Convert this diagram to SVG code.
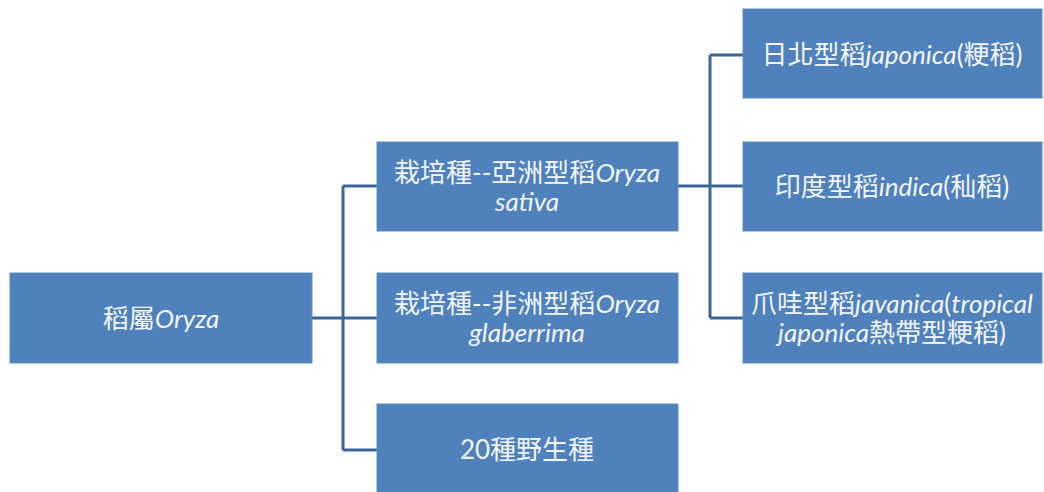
<svg xmlns="http://www.w3.org/2000/svg" width="1044" height="492" viewBox="0 0 1044 492">
<style>
.box{fill:#4f81bd;stroke:#5f8dc6;stroke-width:1}
.t{font-family:Lato,"Noto Sans CJK TC",sans-serif;font-size:26px;fill:#f4f6fa;text-anchor:middle}
.i{font-style:italic}
.c{fill:none;stroke:#3e6597;stroke-width:3}
</style>
<rect width="1044" height="492" fill="#ffffff"/>
<g id="connectors">
<path class="c" d="M312,318 H377"/>
<path class="c" d="M343,186 V450"/>
<path class="c" d="M343,186 H377"/>
<path class="c" d="M343,450 H377"/>
<path class="c" d="M678,186 H743"/>
<path class="c" d="M710,55 V318"/>
<path class="c" d="M710,55 H743"/>
<path class="c" d="M710,318 H743"/>
</g>
<g id="root">
<rect class="box" x="10" y="273" width="302" height="90"/>
<text class="t" x="161" y="328">稻屬<tspan class="i">Oryza</tspan></text>
</g>
<g id="sativa">
<rect class="box" x="377" y="142" width="301" height="89"/>
<text class="t" x="527" y="182">栽培種--亞洲型稻<tspan class="i">Oryza</tspan></text>
<text class="t i" x="527" y="211">sativa</text>
</g>
<g id="glaberrima">
<rect class="box" x="377" y="273" width="301" height="90"/>
<text class="t" x="527" y="313">栽培種--非洲型稻<tspan class="i">Oryza</tspan></text>
<text class="t i" x="527" y="342">glaberrima</text>
</g>
<g id="wild">
<rect class="box" x="377" y="404" width="301" height="92"/>
<text class="t" x="527" y="459">20種野生種</text>
</g>
<g id="japonica">
<rect class="box" x="743" y="9" width="299" height="89"/>
<text class="t" x="892" y="64">日北型稻<tspan class="i">japonica</tspan>(粳稻)</text>
</g>
<g id="indica">
<rect class="box" x="743" y="142" width="299" height="89"/>
<text class="t" x="892" y="196">印度型稻<tspan class="i">indica</tspan>(秈稻)</text>
</g>
<g id="javanica">
<rect class="box" x="743" y="273" width="299" height="90"/>
<text class="t" x="892" y="313">爪哇型稻<tspan class="i">javanica</tspan>(<tspan class="i">tropical</tspan></text>
<text class="t" x="892" y="342"><tspan class="i">japonica</tspan>熱帶型粳稻)</text>
</g>
</svg>
